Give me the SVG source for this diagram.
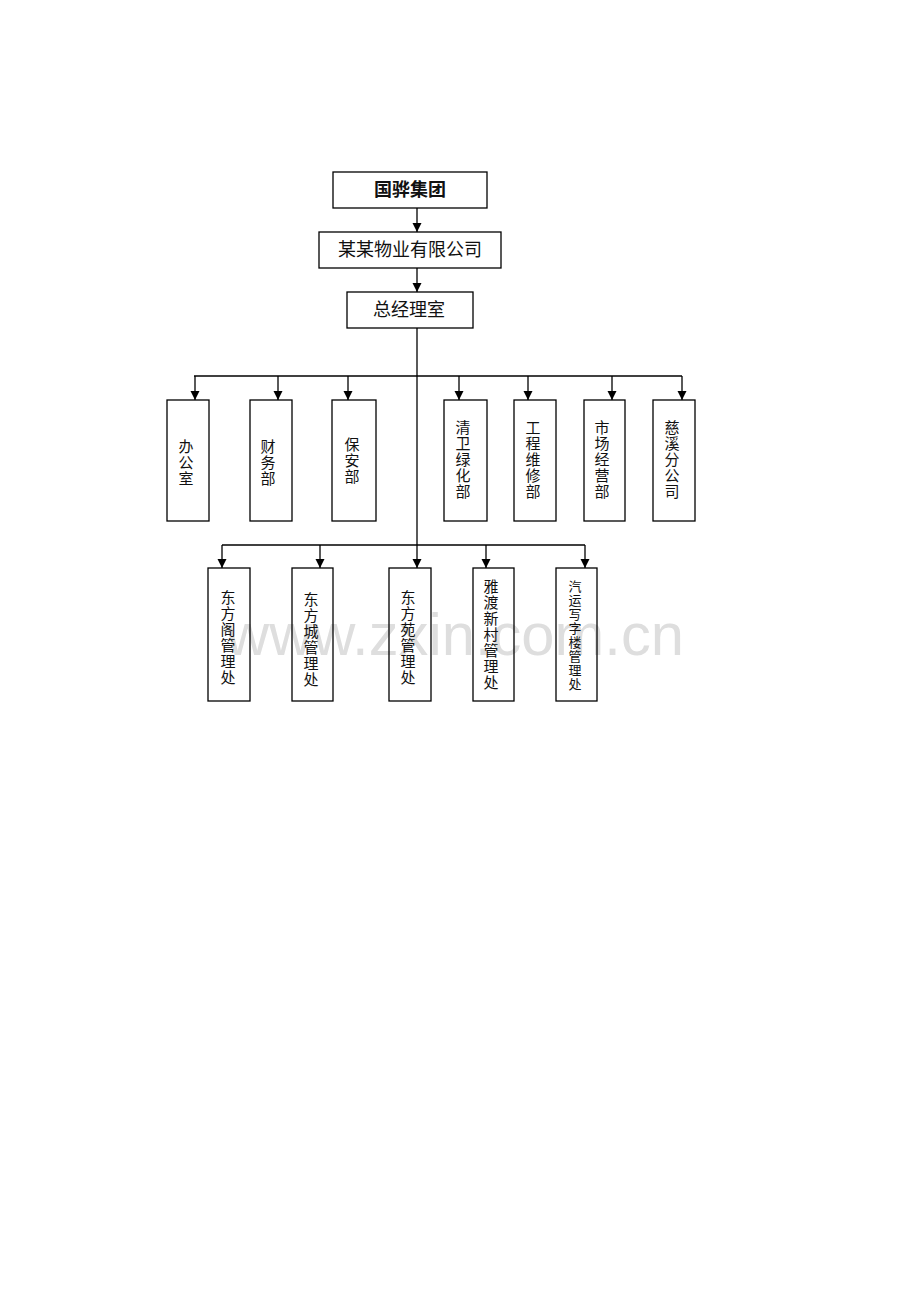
<svg xmlns="http://www.w3.org/2000/svg" width="920" height="1302" viewBox="0 0 920 1302">
<style>
.box{fill:none;stroke:#000;stroke-width:1.3}
.ln{fill:none;stroke:#000;stroke-width:1.3}
.t{font-family:"Noto Sans CJK SC","Noto Sans CJK JP",sans-serif;font-size:18px;fill:#111;text-anchor:middle}
.v{font-family:"Noto Sans CJK SC","Noto Sans CJK JP",sans-serif;font-size:15px;fill:#111;text-anchor:middle;writing-mode:vertical-rl;letter-spacing:1px}
.s{font-size:13px;letter-spacing:1px}
.wm{font-family:"Liberation Sans",Arial,sans-serif;font-size:60px;fill:#dedede}
</style>
<defs>
<marker id="ah" markerUnits="userSpaceOnUse" markerWidth="9" markerHeight="10" viewBox="0 0 10 10" refX="10" refY="5" orient="auto">
<path d="M0,0 L10,5 L0,10 z" fill="#000"/>
</marker>
</defs>
<rect width="920" height="1302" fill="#fff"/>
<text class="wm" x="226" y="655" textLength="458" lengthAdjust="spacingAndGlyphs">www.zxin.com.cn</text>
<g id="connectors">
<path class="ln" d="M417,208 V232" marker-end="url(#ah)"/>
<path class="ln" d="M417,268 V292" marker-end="url(#ah)"/>
<path class="ln" d="M417,328 V568" marker-end="url(#ah)"/>
<path class="ln" d="M194,376 H682"/>
<path class="ln" d="M195,376 V400" marker-end="url(#ah)"/>
<path class="ln" d="M278,376 V400" marker-end="url(#ah)"/>
<path class="ln" d="M348,376 V400" marker-end="url(#ah)"/>
<path class="ln" d="M459,376 V400" marker-end="url(#ah)"/>
<path class="ln" d="M528,376 V400" marker-end="url(#ah)"/>
<path class="ln" d="M612,376 V400" marker-end="url(#ah)"/>
<path class="ln" d="M682,376 V400" marker-end="url(#ah)"/>
<path class="ln" d="M222,545 H585"/>
<path class="ln" d="M222,545 V568" marker-end="url(#ah)"/>
<path class="ln" d="M320,545 V568" marker-end="url(#ah)"/>
<path class="ln" d="M486,545 V568" marker-end="url(#ah)"/>
<path class="ln" d="M585,545 V568" marker-end="url(#ah)"/>
</g>
<g id="n-group"><rect class="box" x="333" y="172" width="154" height="36"/><text class="t" x="410" y="196" font-weight="bold">国骅集团</text></g>
<g id="n-company"><rect class="box" x="319" y="232" width="182" height="36"/><text class="t" x="410" y="256">某某物业有限公司</text></g>
<g id="n-gm"><rect class="box" x="347" y="292" width="126" height="36"/><text class="t" x="409" y="316">总经理室</text></g>

<g id="n-office"><rect class="box" x="167" y="400" width="42" height="121"/><text class="v" x="186" y="463">办公室</text></g>
<g id="n-finance"><rect class="box" x="250" y="400" width="42" height="121"/><text class="v" x="268" y="463">财务部</text></g>
<g id="n-security"><rect class="box" x="332" y="400" width="44" height="121"/><text class="v" x="352" y="461">保安部</text></g>
<g id="n-clean"><rect class="box" x="444" y="400" width="43" height="121"/><text class="v" x="463" y="460">清卫绿化部</text></g>
<g id="n-eng"><rect class="box" x="514" y="400" width="42" height="121"/><text class="v" x="533" y="460">工程维修部</text></g>
<g id="n-market"><rect class="box" x="584" y="400" width="41" height="121"/><text class="v" x="602" y="460">市场经营部</text></g>
<g id="n-cixi"><rect class="box" x="653" y="400" width="42" height="121"/><text class="v" x="672" y="460">慈溪分公司</text></g>

<g id="n-dfg"><rect class="box" x="208" y="568" width="42" height="133"/><text class="v" x="228" y="638" letter-spacing="1.5">东方阁管理处</text></g>
<g id="n-dfc"><rect class="box" x="292" y="568" width="41" height="133"/><text class="v" x="311" y="640" letter-spacing="1.5">东方城管理处</text></g>
<g id="n-dfy"><rect class="box" x="389" y="568" width="42" height="133"/><text class="v" x="408" y="638" letter-spacing="1.5">东方苑管理处</text></g>
<g id="n-yadu"><rect class="box" x="473" y="568" width="41" height="133"/><text class="v" x="491" y="635">雅渡新村管理处</text></g>
<g id="n-qiyun"><rect class="box" x="556" y="568" width="41" height="133"/><text class="v s" x="575" y="636">汽运写字楼管理处</text></g>
</svg>
